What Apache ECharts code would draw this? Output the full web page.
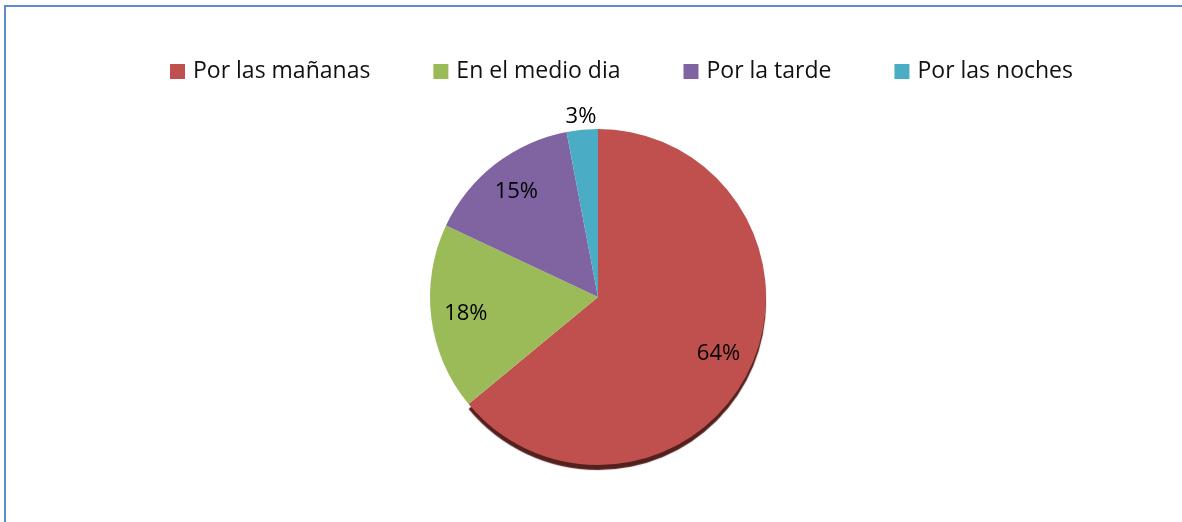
<!DOCTYPE html>
<html>
<head>
<meta charset="utf-8">
<script src="https://cdn.jsdelivr.net/npm/echarts@6/dist/echarts.min.js"></script>
<style>
  html, body { margin: 0; padding: 0; background: #fff; }
  #frame { position: absolute; left: 4px; top: 5px; width: 1300px; height: 700px;
           border-left: 2px solid #5b8ccb; border-top: 2px solid #5b8ccb; }
  #main { position: absolute; left: 0; top: 0; width: 1182px; height: 522px; }
</style>
</head>
<body>
<div id="frame"></div>
<div id="main"></div>
<script>
// momentos del dia
var categories = ['Por las mañanas', 'En el medio dia', 'Por la tarde', 'Por las noches'];
var values = [64, 18, 15, 3];
var colors = ['#c0504d', '#9bbb59', '#8064a2', '#4bacc6'];

var R = 168;
var chart = echarts.init(document.getElementById('main'));

var pieData = categories.map(function (name, i) {
  var item = { name: name, value: values[i], itemStyle: { color: colors[i] } };
  if (i === 0) {
    item.itemStyle.shadowColor = 'rgba(75,20,18,0.95)';
    item.itemStyle.shadowOffsetY = 5;
    item.itemStyle.shadowBlur = 1;
  }
  return item;
});

// invisible pies that only place the percentage labels
function labelData(showIdx) {
  return categories.map(function (name, i) {
    return {
      name: name, value: values[i],
      itemStyle: { color: 'rgba(0,0,0,0)' },
      label: { show: showIdx.indexOf(i) >= 0 }
    };
  });
}
var labelStyle = {
  position: 'inside',
  formatter: '{c}%',
  color: '#000',
  fontFamily: 'Open Sans',
  fontSize: 22
};

var option = {
  animation: false,
  legend: {
    top: 55,
    left: 165,
    itemWidth: 15,
    itemHeight: 15,
    itemGap: 63,
    icon: 'rect',
    data: categories.map(function (n, i) { return { name: n, itemStyle: { color: colors[i] } }; }),
    textStyle: { fontFamily: 'Open Sans', fontSize: 23, color: '#111', padding: [0, 0, 0, 3] }
  },
  series: [
    {
      type: 'pie',
      center: [598, 297],
      radius: [0, R],
      startAngle: 90,
      clockwise: true,
      silent: true,
      label: { show: false },
      labelLine: { show: false },
      data: pieData
    },
    {
      type: 'pie',
      center: [598, 297],
      radius: [0, R * 1.55],
      startAngle: 90,
      silent: true,
      label: labelStyle,
      labelLine: { show: false },
      data: labelData([0, 1, 2])
    },
    {
      type: 'pie',
      center: [598, 297],
      radius: [0, R * 2.12],
      startAngle: 90,
      silent: true,
      label: labelStyle,
      labelLine: { show: false },
      data: labelData([3])
    }
  ]
};
chart.setOption(option);
</script>
</body>
</html>
